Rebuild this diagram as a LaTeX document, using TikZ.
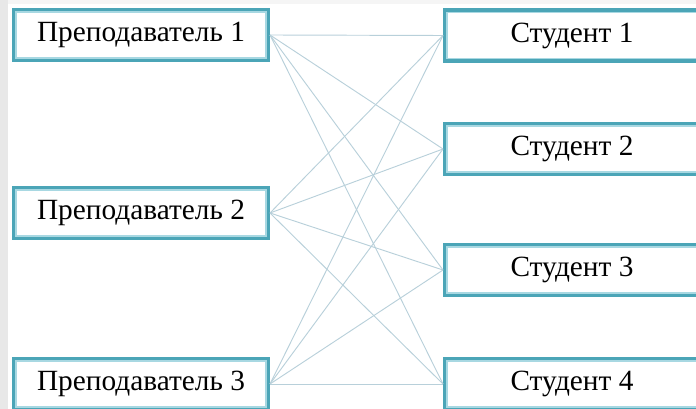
\documentclass[tikz,border=0pt]{standalone}
\usepackage{fontspec}
\setmainfont{Liberation Serif}
\definecolor{boxouter}{HTML}{4BA5B7}
\definecolor{boxinner}{HTML}{A8D8E2}
\definecolor{linkcol}{HTML}{B8D0DA}
\begin{document}
\begin{tikzpicture}[x=0.75pt,y=-0.75pt,
	box/.style={draw=boxouter,line width=2.6pt,fill=white,rectangle,
		minimum width=190.9pt,minimum height=38pt,inner sep=0pt,
		font=\fontsize{22}{26}\selectfont,
		path picture={\draw[boxinner,line width=4.8pt] (path picture bounding box.south west) rectangle (path picture bounding box.north east);}},
	link/.style={draw=linkcol,line width=0.7pt}]
	\useasboundingbox (0,0) rectangle (696,409);
	\fill[black!9] (0,0) rectangle (8,409);
	\fill[black!4] (8,0) rectangle (696,4);
	% teachers
	\node (prep1) [box] at (141,35) {Преподаватель 1};
	\node (prep2) [box] at (141,213) {Преподаватель 2};
	\node (prep3) [box] at (141,384) {Преподаватель 3};
	% students
	\node (stud1) [box] at (572,35.5) {Студент 1};
	\node (stud2) [box] at (572,149) {Студент 2};
	\node (stud3) [box] at (572,270) {Студент 3};
	\node (stud4) [box] at (572,384) {Студент 4};
	\foreach \p in {1,2,3}
		\foreach \s in {1,2,3,4}
			\draw [link] (prep\p.east) -- (stud\s.west);
\end{tikzpicture}
\end{document}
